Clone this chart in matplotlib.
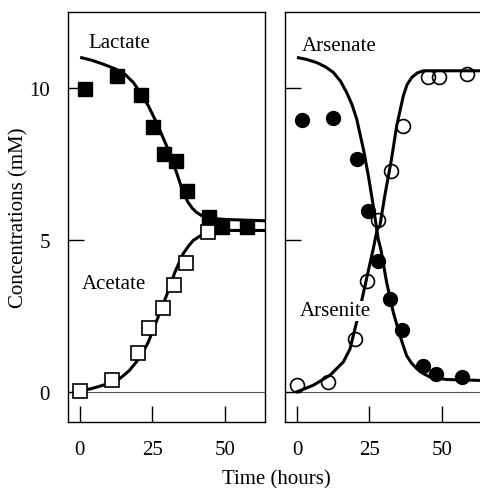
import matplotlib
matplotlib.use("Agg")
import matplotlib.pyplot as plt

plt.rcParams['font.family'] = ['Liberation Serif', 'DejaVu Serif']

# measured points, left panel
lact_t = [1.7, 12.9, 21.0, 25.3, 29.1, 33.0, 36.8, 44.6, 48.9, 57.7]
lact_c = [9.97, 10.4, 9.77, 8.71, 7.83, 7.59, 6.6, 5.74, 5.42, 5.42]
acet_t = [0.2, 11.1, 19.9, 23.9, 28.5, 32.4, 36.6, 44.3]
acet_c = [0.02, 0.37, 1.28, 2.1, 2.76, 3.52, 4.24, 5.25]

# fitted curves
lact_fit_t = [0.6, 4.0, 8.0, 12.0, 15.5, 18.5, 20.7, 23.6, 26.4, 29.9, 33.3, 35.6, 37.3,
              38.8, 40.2, 42.0, 43.7, 46.5, 50.6, 63.5]
lact_fit_c = [11.0, 10.92, 10.79, 10.64, 10.46, 10.18, 9.86, 9.42, 8.87, 8.10, 7.23, 6.57, 6.24,
              6.04, 5.91, 5.80, 5.74, 5.70, 5.67, 5.63]
acet_fit_t = [0.2, 4.0, 8.0, 11.0, 13.8, 17.0, 19.5, 21.7, 23.6, 27.0, 29.9, 32.8, 35.6,
              37.5, 39.1, 41.5, 43.7, 46.5, 50.6, 63.4]
acet_fit_c = [0.02, 0.10, 0.21, 0.31, 0.43, 0.69, 0.98, 1.29, 1.63, 2.46, 3.17, 3.94, 4.54,
              4.80, 4.98, 5.13, 5.23, 5.28, 5.31, 5.31]

# measured points, right panel
asv_t = [1.6, 12.3, 20.6, 24.6, 28.0, 32.1, 36.1, 43.6, 47.9, 56.8]
asv_c = [8.96, 9.01, 7.66, 5.96, 4.32, 3.06, 2.02, 0.83, 0.59, 0.48]
asiii_t = [0.1, 10.8, 20.0, 24.2, 28.0, 32.6, 36.7, 45.3, 49.1, 58.5]
asiii_c = [0.23, 0.32, 1.74, 3.66, 5.67, 7.28, 8.74, 10.35, 10.38, 10.46]

asv_fit_t = [0.5, 3.5, 6.8, 9.8, 12.5, 15.0, 17.1, 19.0, 20.6, 22.9, 24.6, 26.3, 28.0, 28.9,
             30.9, 33.2, 35.5, 37.8, 39.5, 41.3, 43.5, 45.9, 51.6, 63.1]
asv_fit_c = [11.0, 10.94, 10.84, 10.70, 10.52, 10.23, 9.86, 9.45, 8.98, 7.99, 7.12, 6.13, 5.03, 4.70,
             3.61, 2.62, 1.85, 1.19, 0.94, 0.76, 0.60, 0.48, 0.40, 0.37]
asiii_fit_t = [0.1, 5.6, 11.4, 16.0, 18.3, 21.7, 24.0, 26.3, 27.7, 28.6, 30.3, 32.6, 34.4,
               36.7, 38.0, 39.6, 41.5, 43.6, 49.3, 63.1]
asiii_fit_c = [0.0, 0.21, 0.54, 0.98, 1.41, 2.73, 3.72, 4.70, 5.36, 5.47, 6.46, 7.66, 8.76,
               9.75, 10.12, 10.35, 10.50, 10.57, 10.57, 10.57]

xticks = [0, 25, 50]
yticks = [0, 5, 10]

fig = plt.figure(figsize=(4.8, 4.89), dpi=100)
ax1 = fig.add_axes([0.1417, 0.135, 0.410, 0.838])
ax2 = fig.add_axes([0.594, 0.135, 0.410, 0.838])

for ax in (ax1, ax2):
    ax.set_xlim(-4.1, 63.8)
    ax.set_ylim(-1, 12.5)
    ax.axhline(0, color='#555555', lw=0.8, zorder=1)
    ax.set_xticks(xticks)
    ax.set_yticks(yticks)
    ax.tick_params(direction='in', length=11.5, width=1, labelsize=15, pad=13)
    for s in ax.spines.values():
        s.set_linewidth(1)

ax2.set_yticklabels([])

# left panel
ax1.plot(lact_fit_t, lact_fit_c, color='black', lw=2.2, zorder=2)
ax1.plot(acet_fit_t, acet_fit_c, color='black', lw=2.2, zorder=2)
ax1.plot(acet_t, acet_c, 's', ms=10.5, mfc='white', mec='black', mew=1.2, zorder=3)
ax1.plot(lact_t, lact_c, 's', ms=10.5, mfc='black', mec='black', zorder=4)
ax1.text(2.8, 11.5, 'Lactate', fontsize=15, va='center')
ax1.text(0.7, 3.55, 'Acetate', fontsize=15, va='center')
ax1.set_ylabel('Concentrations (mM)', fontsize=15)
ax1.yaxis.set_label_coords(-0.2, 0.5)

# right panel
ax2.plot(asv_fit_t, asv_fit_c, color='black', lw=2.2, zorder=2)
ax2.plot(asiii_fit_t, asiii_fit_c, color='black', lw=2.2, zorder=2)
ax2.plot(asv_t, asv_c, 'o', ms=10, mfc='black', mec='black', zorder=3)
ax2.plot(asiii_t, asiii_c, 'o', ms=10, mfc='none', mec='black', mew=1.2, zorder=4)
ax2.text(1.7, 11.4, 'Arsenate', fontsize=15, va='center')
ax2.text(1.0, 2.66, 'Arsenite', fontsize=15, va='center',
         bbox=dict(facecolor='white', edgecolor='none', pad=0.5), zorder=5)

fig.text(0.575, 0.0184, 'Time (hours)', fontsize=15, ha='center', va='center')

fig.savefig('out.png', dpi=100)
